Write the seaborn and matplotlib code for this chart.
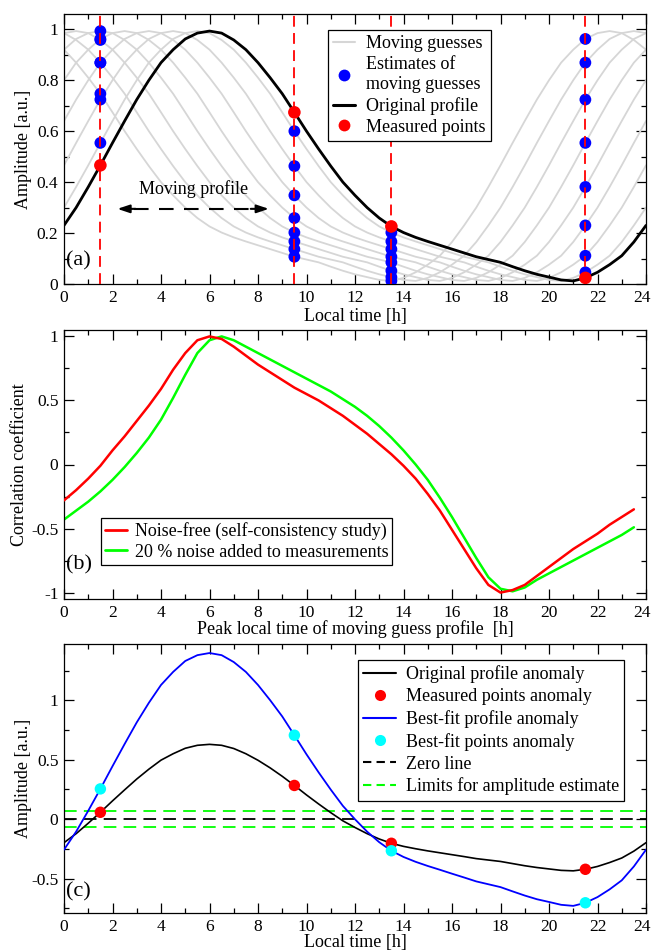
import numpy as np
import pandas as pd
import matplotlib
matplotlib.use("Agg")
import matplotlib.pyplot as plt
import seaborn as sns
from matplotlib.ticker import MultipleLocator, FuncFormatter
from matplotlib.lines import Line2D
from matplotlib.transforms import ScaledTranslation

# ---------------- data ----------------
# panel (a): original profile sampled every half hour (0 ... 24 h)
local_time_h = np.arange(0, 24.5, 0.5)
profile_a = [0.23, 0.30, 0.381, 0.466, 0.554, 0.64, 0.724, 0.80, 0.869, 0.92,
             0.962, 0.985, 0.993, 0.985, 0.958, 0.92, 0.869, 0.81, 0.747, 0.674,
             0.60, 0.53, 0.463, 0.40, 0.348, 0.30, 0.259, 0.226, 0.202, 0.183,
             0.167, 0.152, 0.137, 0.122, 0.107, 0.096, 0.085, 0.068, 0.052, 0.038,
             0.027, 0.016, 0.012, 0.024, 0.046, 0.076, 0.111, 0.165, 0.23]
original_peak_h = 6.0
guess_peak_times = [22.5, 23.5, 0.5, 1.5, 2.5, 3.5, 4.5, 5.5]
meas_times = [1.5, 9.5, 13.5, 21.5]
meas_values_a = [0.466, 0.674, 0.226, 0.024]

# panel (b): correlation coefficient vs peak time of the moving guess
peak_time_b = np.arange(0, 24, 0.5)
corr_noise_free = [-0.28, -0.20, -0.11, -0.01, 0.11, 0.22, 0.34, 0.46, 0.59, 0.74,
                   0.87, 0.97, 1.00, 0.98, 0.92, 0.85, 0.78, 0.72, 0.66, 0.60,
                   0.55, 0.50, 0.44, 0.38, 0.31, 0.24, 0.16, 0.08, -0.01, -0.11,
                   -0.23, -0.36, -0.51, -0.66, -0.81, -0.94, -1.00, -0.98, -0.94, -0.87,
                   -0.80, -0.73, -0.66, -0.60, -0.54, -0.47, -0.41, -0.35]
corr_noise_20 = [-0.43, -0.36, -0.29, -0.21, -0.12, -0.02, 0.09, 0.21, 0.35, 0.52,
                 0.70, 0.87, 0.97, 1.00, 0.97, 0.92, 0.87, 0.82, 0.77, 0.72,
                 0.67, 0.62, 0.57, 0.51, 0.45, 0.38, 0.30, 0.21, 0.11, 0.00,
                 -0.12, -0.26, -0.41, -0.57, -0.73, -0.88, -0.97, -0.99, -0.96, -0.90,
                 -0.85, -0.80, -0.75, -0.70, -0.65, -0.60, -0.55, -0.49]

# panel (c): anomalies
anom_original_c = [-0.198, -0.122, -0.034, 0.058, 0.154, 0.247, 0.338, 0.421, 0.497, 0.551,
                   0.597, 0.622, 0.630, 0.622, 0.595, 0.551, 0.496, 0.432, 0.361, 0.284,
                   0.204, 0.128, 0.055, -0.014, -0.070, -0.122, -0.167, -0.203, -0.229, -0.249,
                   -0.267, -0.283, -0.299, -0.315, -0.332, -0.344, -0.356, -0.374, -0.392, -0.407,
                   -0.419, -0.431, -0.435, -0.422, -0.398, -0.365, -0.327, -0.269, -0.198]
anom_bestfit_c = [-0.257, -0.105, 0.071, 0.255, 0.446, 0.633, 0.815, 0.980, 1.130, 1.240,
                  1.332, 1.381, 1.399, 1.381, 1.323, 1.240, 1.130, 1.002, 0.865, 0.707,
                  0.546, 0.394, 0.249, 0.112, -0.001, -0.105, -0.194, -0.266, -0.318, -0.359,
                  -0.394, -0.426, -0.459, -0.491, -0.524, -0.548, -0.572, -0.608, -0.643, -0.674,
                  -0.697, -0.721, -0.730, -0.704, -0.656, -0.591, -0.515, -0.398, -0.257]
meas_anom_c = [0.058, 0.284, -0.203, -0.422]
fit_points_c = [0.255, 0.707, -0.266, -0.704]
zero_level = 0.0
amp_limits = [0.07, -0.07]

# ---------------- style ----------------
sns.set_theme(style="ticks")
plt.rcParams.update({
    "font.family": ["Liberation Serif", "DejaVu Serif"],
    "axes.unicode_minus": False,
    "text.color": "black",
    "axes.labelcolor": "black",
    "xtick.color": "black",
    "ytick.color": "black",
    "axes.edgecolor": "black",
})

BLUE = "#0000ff"
RED = "#ff0000"
GREEN = "#00ff00"
CYAN = "#00ffff"
GRAY = "#d6d6d6"
FS_TICK = 12.5
FS = 13

fig = plt.figure(figsize=(6.52, 9.52), dpi=100)
W, H = 652.0, 952.0
L, R = 64, 646


def make_ax(top, bottom):
    return fig.add_axes([L / W, 1 - bottom / H, (R - L) / W, (bottom - top) / H])


def fmt(v, p):
    if abs(v) < 1e-9:
        return "0"
    return "%g" % round(v, 6)


def style(ax, ylim, ymaj, ymin, ylabel, xlabel, ylx, xly):
    ax.set_xlim(0, 24)
    ax.set_ylim(*ylim)
    ax.xaxis.set_major_locator(MultipleLocator(2))
    ax.xaxis.set_minor_locator(MultipleLocator(1))
    ax.yaxis.set_major_locator(MultipleLocator(ymaj))
    ax.yaxis.set_minor_locator(MultipleLocator(ymin))
    ax.xaxis.set_major_formatter(FuncFormatter(fmt))
    ax.yaxis.set_major_formatter(FuncFormatter(fmt))
    ax.tick_params(which="both", direction="in", top=True, right=True,
                   labelsize=FS_TICK, width=0.9, colors="black")
    ax.tick_params(which="major", length=7, pad=4)
    ax.tick_params(which="minor", length=3.5)
    for sp in ax.spines.values():
        sp.set_linewidth(0.9)
        sp.set_color("black")
        sp.set_visible(True)
    ax.set_ylabel(ylabel, fontsize=FS)
    ax.set_xlabel(xlabel, fontsize=FS)
    ax.yaxis.set_label_coords(ylx, 0.5)
    ax.xaxis.set_label_coords(0.5, xly)


def legend(ax, handles, labels, anchor, hl, htp, ls=0.25, bp=0.3):
    lg = ax.legend(handles, labels, loc="upper left", bbox_to_anchor=anchor,
                   borderaxespad=0, frameon=True, fancybox=False, framealpha=1,
                   edgecolor="black", fontsize=FS, handlelength=hl,
                   handletextpad=htp, labelspacing=ls, borderpad=bp)
    lg.get_frame().set_linewidth(0.9)
    lg.set_zorder(20)
    return lg


# ---------------- panel (a) ----------------
ax1 = make_ax(14, 284)
P = np.array(profile_a)
base = P[:-1]
step = 0.5
rows = []
est_rows = []
for g, tp in enumerate(guess_peak_times):
    k = int(round((tp - original_peak_h) / step)) % len(base)
    curve = np.roll(base, k)
    curve = np.append(curve, curve[0])
    for t, v in zip(local_time_h, curve):
        rows.append((g, t, v))
    for tm in meas_times:
        est_rows.append((g, tm, curve[int(round(tm / step))]))
df_gray = pd.DataFrame(rows, columns=["guess", "t", "v"])
df_est = pd.DataFrame(est_rows, columns=["guess", "t", "v"])

sns.lineplot(data=df_gray, x="t", y="v", units="guess", estimator=None,
             color=GRAY, lw=1.3, ax=ax1, legend=False, sort=False, zorder=1)
sns.lineplot(x=local_time_h, y=profile_a, color="black", lw=2.0, ax=ax1,
             zorder=3, estimator=None)
sns.scatterplot(data=df_est, x="t", y="v", color=BLUE, s=72, edgecolor="none",
                ax=ax1, zorder=4, legend=False)
for tm in meas_times:
    ax1.axvline(tm, color=RED, lw=1.3, ls=(0, (6, 3.5)), zorder=5)
sns.scatterplot(x=meas_times, y=meas_values_a, color=RED, s=82, edgecolor="none",
                ax=ax1, zorder=6, legend=False)

# moving-profile arrow
ax1.plot([2.9, 7.75], [0.295, 0.295], color="black", lw=1.5, ls=(0, (7, 5)), zorder=3)
ax1.annotate("", xy=(2.2, 0.295), xytext=(2.95, 0.295),
             arrowprops=dict(arrowstyle="-|>,head_length=0.6,head_width=0.2",
                             color="black", lw=1.5, shrinkA=0, shrinkB=0))
ax1.annotate("", xy=(8.45, 0.295), xytext=(7.7, 0.295),
             arrowprops=dict(arrowstyle="-|>,head_length=0.6,head_width=0.2",
                             color="black", lw=1.5, shrinkA=0, shrinkB=0))
ax1.text(5.36, 0.374, "Moving profile", fontsize=FS, ha="center", va="center")
ax1.text(0.024, 0.085, "(a)", transform=ax1.transAxes, fontsize=16,
         ha="center", va="center")

style(ax1, (0, 1.06), 0.2, 0.1, "Amplitude [a.u.]", "Local time [h]", -0.055, -0.089)
legend(ax1,
       [Line2D([], [], color=GRAY, lw=1.5),
        Line2D([], [], ls="", marker="o", ms=8.5, color=BLUE, mec="none"),
        Line2D([], [], color="black", lw=2.2),
        Line2D([], [], ls="", marker="o", ms=8.5, color=RED, mec="none")],
       ["Moving guesses", "Estimates of\nmoving guesses", "Original profile",
        "Measured points"],
       (0.4536, 0.9407), 1.2, 0.6, ls=0.22, bp=0.3)

# ---------------- panel (b) ----------------
ax2 = make_ax(330, 599)
sns.lineplot(x=peak_time_b, y=corr_noise_free, color=RED, lw=1.8, ax=ax2,
             estimator=None, zorder=3)
sns.lineplot(x=peak_time_b, y=corr_noise_20, color=GREEN, lw=1.8, ax=ax2,
             estimator=None, zorder=2)
style(ax2, (-1.05, 1.05), 0.5, 0.25, "Correlation coefficient",
      "Peak local time of moving guess profile  [h]", -0.062, -0.078)
ax2.text(0.026, 0.126, "(b)", transform=ax2.transAxes, fontsize=16,
         ha="center", va="center")
legend(ax2,
       [Line2D([], [], color=RED, lw=2), Line2D([], [], color=GREEN, lw=2)],
       ["Noise-free (self-consistency study)", "20 % noise added to measurements"],
       (0.0636, 0.301), 1.2, 0.45, ls=0.2, bp=0.22)

# ---------------- panel (c) ----------------
ax3 = make_ax(644, 913)
ax3.axhline(zero_level, color="black", lw=1.3, ls=(0, (7, 4)), zorder=2)
for lim in amp_limits:
    ax3.axhline(lim, color=GREEN, lw=1.3, ls=(0, (7, 4)), zorder=2)
sns.lineplot(x=local_time_h, y=anom_original_c, color="black", lw=1.2, ax=ax3,
             estimator=None, zorder=3)
sns.lineplot(x=local_time_h, y=anom_bestfit_c, color=BLUE, lw=1.3, ax=ax3,
             estimator=None, zorder=3)
sns.scatterplot(x=meas_times, y=meas_anom_c, color=RED, s=68, edgecolor="none",
                ax=ax3, zorder=5, legend=False)
sns.scatterplot(x=meas_times, y=fit_points_c, color=CYAN, s=68, edgecolor="none",
                ax=ax3, zorder=5, legend=False)
style(ax3, (-0.79, 1.475), 0.5, 0.25, "Amplitude [a.u.]", "Local time [h]",
      -0.055, -0.078)
ax3.text(0.024, 0.079, "(c)", transform=ax3.transAxes, fontsize=16,
         ha="center", va="center")
legend(ax3,
       [Line2D([], [], color="black", lw=1.5),
        Line2D([], [], ls="", marker="o", ms=8, color=RED, mec="none"),
        Line2D([], [], color=BLUE, lw=1.5),
        Line2D([], [], ls="", marker="o", ms=8, color=CYAN, mec="none"),
        Line2D([], [], color="black", lw=1.5, ls=(0, (4, 2.5))),
        Line2D([], [], color=GREEN, lw=1.5, ls=(0, (4, 2.5)))],
       ["Original profile anomaly", "Measured points anomaly",
        "Best-fit profile anomaly", "Best-fit points anomaly", "Zero line",
        "Limits for amplitude estimate"],
       (0.505, 0.9405), 1.8, 0.55, ls=0.27, bp=0.3)

# nudge the last x tick label ("24") slightly left, as in the reference
for ax in (ax1, ax2, ax3):
    ticks = ax.xaxis.get_major_ticks()
    locs = ax.xaxis.get_majorticklocs()
    for tk, loc in zip(ticks, locs):
        if abs(loc - 24) < 1e-6:
            lab = tk.label1
            lab.set_transform(lab.get_transform() +
                              ScaledTranslation(-4 / 100, 0, fig.dpi_scale_trans))

fig.savefig("out.png", dpi=100)
